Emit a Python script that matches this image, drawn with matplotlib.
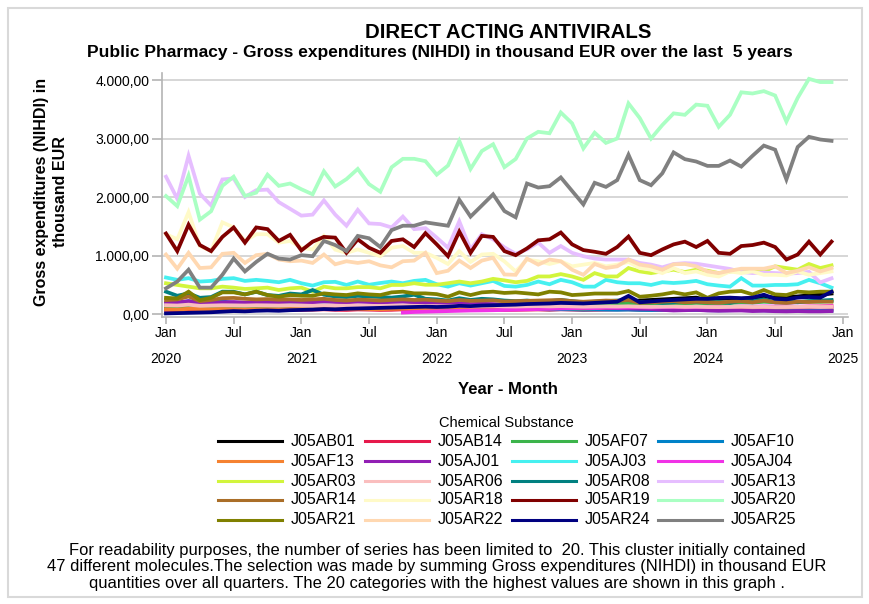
import numpy as np
import matplotlib
matplotlib.use("Agg")
import matplotlib.pyplot as plt
from matplotlib.lines import Line2D
from matplotlib.patches import Rectangle

plt.rcParams['font.family'] = ['Liberation Sans', 'DejaVu Sans']

nan = np.nan
months = list(range(60))  # Jan 2020 .. Dec 2024
tick_pos = list(range(0, 61, 6))
tick_labels = ['Jan\n2020', 'Jul', 'Jan\n2021', 'Jul', 'Jan\n2022', 'Jul',
               'Jan\n2023', 'Jul', 'Jan\n2024', 'Jul', 'Jan\n2025']
y_ticks = [0, 1000, 2000, 3000, 4000]
y_tick_labels = ['0,00', '1.000,00', '2.000,00', '3.000,00', '4.000,00']

J05AB01 = [90,100,110,95,100,105,100,95,100,105,100,110,
           100,105,110,100,105,110,115,110,115,120,115,120,
           130,125,135,130,140,150,145,150,160,170,175,180,
           185,190,200,210,215,220,230,240,250,260,270,280,
           240,260,270,260,270,300,280,290,300,320,330,350]
J05AB14 = [70,65,80,60,70,75,70,65,70,75,68,72,
           70,75,80,72,70,78,75,70,72,80,85,78,
           75,70,80,72,75,78,70,72,75,78,72,80,
           75,70,72,75,78,80,72,70,75,78,72,75,
           70,72,75,78,70,75,72,70,75,78,72,75]
J05AF07 = [120,110,140,115,120,130,135,125,130,135,128,132,
           130,125,140,130,135,140,138,130,135,140,145,142,
           140,135,150,140,145,150,145,150,155,160,155,165,
           160,150,160,165,170,175,165,170,180,185,180,190,
           185,180,190,200,195,210,200,190,205,215,210,220]
J05AF10 = [170,180,220,200,210,215,190,180,170,165,160,155,
           150,145,150,140,135,130,125,120,120,115,110,105,
           100,95,100,95,90,92,88,85,90,85,80,82,
           80,75,78,75,72,75,70,68,70,72,68,70,
           65,62,65,68,65,62,60,58,60,62,60,58]
J05AF13 = [80,75,90,85,80,85,80,78,80,82,80,85,
           85,80,90,85,88,90,85,82,88,90,92,90,
           90,85,95,90,92,95,90,92,95,98,95,100,
           98,95,100,102,100,105,100,98,102,105,100,108,
           105,100,110,112,108,115,110,112,118,125,130,135]
J05AJ01 = [190,200,220,180,185,200,205,195,200,205,200,210,
           205,200,215,205,200,210,205,200,205,210,200,195,
           180,175,185,170,175,170,160,155,150,145,140,135,
           120,110,115,105,100,95,90,85,70,60,65,70,
           60,55,58,60,50,55,48,45,50,45,45,50]
J05AJ03 = [624,584,613,555,566,601,613,566,584,566,543,584,
           526,486,543,550,497,555,500,530,555,526,566,584,
           509,468,526,486,526,566,480,468,497,555,509,584,
           543,468,468,584,543,526,526,497,543,530,543,566,
           509,486,468,613,486,486,497,497,509,584,526,451]
J05AJ04 = [nan,nan,nan,nan,nan,nan,nan,nan,nan,nan,nan,nan,
           nan,nan,nan,nan,nan,nan,nan,nan,nan,25,35,40,
           45,50,55,60,62,65,70,75,80,85,90,95,
           100,105,100,110,108,112,115,110,118,120,115,118,
           122,125,120,128,125,130,128,132,125,130,128,135]
J05AR03 = [526,497,468,439,439,468,451,428,439,451,410,439,
           451,382,468,439,439,460,460,439,497,497,526,500,
           500,526,555,526,555,601,575,543,566,642,642,682,
           642,584,699,642,642,786,728,699,728,757,717,757,
           740,699,728,740,757,728,815,786,757,855,786,832]
J05AR06 = [150,145,160,140,145,150,148,145,150,148,145,150,
           145,140,150,142,140,145,140,138,142,145,140,138,
           135,130,140,132,135,138,130,128,132,135,130,135,
           130,125,128,130,128,132,125,122,125,128,122,125,
           120,118,122,125,120,122,118,120,122,125,120,122]
J05AR08 = [382,312,353,277,290,382,380,335,380,324,310,350,
           335,410,330,300,290,310,300,290,280,300,330,260,
           250,230,270,240,260,250,230,220,230,210,220,240,
           220,200,210,220,230,240,200,210,190,200,220,210,
           200,210,190,230,220,250,200,210,200,220,230,240]
J05AR13 = [2347,1971,2705,2058,1855,2300,2318,2000,2116,2127,1913,1798,
           1682,1699,1942,1700,1509,1780,1549,1538,1480,1665,1451,1468,
           1306,1133,1584,1104,1364,1277,1140,1029,1104,1220,1046,1162,
           1046,988,948,931,931,931,873,844,798,855,870,860,
           830,800,770,720,700,710,700,690,700,720,540,610]
J05AR14 = [237,250,300,220,240,270,275,260,250,255,245,250,
           240,250,260,240,230,245,240,230,240,250,240,245,
           230,220,240,225,230,235,215,220,225,230,235,240,
           220,210,220,230,225,240,190,200,210,220,200,210,
           200,195,210,220,200,230,200,190,210,205,215,210]
J05AR18 = [1364,1277,1740,1162,1075,1567,1480,1249,1364,1364,1220,1249,
           1133,1104,1335,1100,1046,1104,1046,988,1133,1162,1046,1046,
           960,855,1075,890,1017,1029,900,728,931,902,855,902,
           815,844,873,815,844,890,786,757,699,786,699,728,
           670,641,728,699,728,670,670,659,728,670,699,728]
J05AR19 = [1376,1075,1526,1179,1075,1318,1480,1220,1480,1451,1249,1353,
           1087,1237,1318,1306,1046,1277,1133,1046,1249,1277,1145,1382,
           1191,988,1410,1046,1335,1318,1075,1006,1121,1260,1277,1393,
           1191,1093,1064,1029,1145,1324,1046,1006,1104,1190,1237,1145,
           1249,1046,1029,1162,1179,1220,1145,931,1017,1237,1017,1237]
J05AR20 = [2017,1844,2364,1613,1757,2191,2347,2017,2075,2382,2191,2231,
           2133,2046,2440,2180,2306,2480,2220,2090,2509,2653,2653,2613,
           2382,2538,2960,2480,2786,2902,2510,2650,3000,3115,3090,3445,
           3260,2830,3100,2925,3000,3600,3350,3000,3230,3430,3405,3580,
           3560,3200,3405,3790,3770,3810,3735,3290,3695,4020,3965,3965]
J05AR21 = [277,266,382,237,277,370,370,335,382,324,295,324,
           312,312,353,335,324,353,335,324,370,382,353,353,
           340,295,370,324,370,382,360,370,353,335,382,370,
           324,335,350,350,350,393,295,312,335,370,335,370,
           277,353,382,393,335,410,335,324,382,370,382,382]
J05AR22 = [1017,775,1046,786,798,1029,1046,873,1006,1029,931,902,
           913,873,1017,850,902,873,902,832,798,902,913,1046,
           699,740,913,786,913,960,676,670,948,844,931,902,
           757,670,855,786,815,931,844,815,757,850,855,815,
           728,699,740,775,775,775,815,699,740,798,728,786]
J05AR24 = [10,15,20,25,30,40,50,45,55,60,55,65,
           70,75,85,80,90,95,100,105,110,115,120,125,
           120,125,140,135,145,150,155,160,170,175,180,190,
           185,180,190,200,210,310,200,215,230,240,250,260,
           260,275,280,270,280,330,260,250,280,290,280,380]
J05AR25 = [439,555,757,451,451,670,948,728,890,1029,948,931,
           1006,988,1249,1179,1075,1335,1295,1145,1434,1509,1509,1567,
           1538,1509,1954,1665,1855,2046,1760,1653,2231,2162,2185,2335,
           2104,1873,2243,2173,2289,2723,2289,2202,2405,2763,2647,2607,
           2532,2532,2624,2520,2705,2879,2809,2300,2855,3029,2983,2960]

names = ['J05AB01','J05AB14','J05AF07','J05AF10','J05AF13','J05AJ01','J05AJ03','J05AJ04',
         'J05AR03','J05AR06','J05AR08','J05AR13','J05AR14','J05AR18','J05AR19','J05AR20',
         'J05AR21','J05AR22','J05AR24','J05AR25']
series = [J05AB01,J05AB14,J05AF07,J05AF10,J05AF13,J05AJ01,J05AJ03,J05AJ04,
          J05AR03,J05AR06,J05AR08,J05AR13,J05AR14,J05AR18,J05AR19,J05AR20,
          J05AR21,J05AR22,J05AR24,J05AR25]
colors = ['#000000','#e6194b','#3cb44b','#0082c8','#f58231','#911eb4','#46f0f0','#f032e6',
          '#d2f53c','#fabebe','#008080','#e6beff','#aa6e28','#fffac8','#800000','#aaffc3',
          '#808000','#ffd8b1','#000080','#808080']

W, H = 869, 604
fig = plt.figure(figsize=(W/100, H/100), dpi=100)
fig.patches.append(Rectangle((8/W, 1-597/H), (862-8)/W, (597-8)/H, transform=fig.transFigure,
                             fill=False, edgecolor='#d9d9d9', lw=1.5))

ax = fig.add_axes([161.7/W, 1-316.7/H, (848-161.7)/W, (316.7-73.3)/H])
for name, vals, c in zip(names, series, colors):
    ax.plot(months, vals, color=c, lw=2.7, solid_joinstyle='miter', zorder=3)

ax.set_xlim(-0.38, 60.46)
ax.set_ylim(-46, 4115)
ax.set_yticks(y_ticks)
ax.set_yticklabels(y_tick_labels, fontsize=10)
ax.set_xticks(tick_pos)
ax.set_xticklabels(tick_labels, fontsize=10, linespacing=2.15)
ax.yaxis.grid(True, color='#d3d3d3', lw=1.3, zorder=0)
ax.set_axisbelow(True)
for s in ['top', 'right']:
    ax.spines[s].set_visible(False)
for s in ['left', 'bottom']:
    ax.spines[s].set_color('#b4b4b4')
    ax.spines[s].set_linewidth(1.2)
ax.tick_params(axis='y', color='#b4b4b4', length=7, width=1.2, pad=2)
ax.tick_params(axis='x', color='#b4b4b4', length=5, width=1.2, pad=1.5)

fig.text(508/W, 1-33/H, 'DIRECT ACTING ANTIVIRALS', ha='center', va='center',
         fontsize=14.7, fontweight='bold')
fig.text(440/W, 1-52/H, 'Public Pharmacy - Gross expenditures (NIHDI) in thousand EUR over the last  5 years',
         ha='center', va='center', fontsize=12.5, fontweight='bold')
fig.text(51/W, 1-192/H, 'Gross expenditures (NIHDI) in\nthousand EUR', ha='center', va='center',
         rotation=90, fontsize=11.5, fontweight='bold', linespacing=1.3)
fig.text(508/W, 1-390/H, 'Year - Month', ha='center', va='center', fontsize=12, fontweight='bold')

# legend
fig.text(506/W, 1-423/H, 'Chemical Substance', ha='center', va='center', fontsize=10.5)
col_x = [218, 365, 512, 658]
row_y = [441, 461, 481, 500, 520]
for i, (name, c) in enumerate(zip(names, colors)):
    r, k = divmod(i, 4)
    x0 = col_x[k]
    y0 = 1 - row_y[r]/H
    fig.lines.append(Line2D([x0/W, (x0+64)/W], [y0, y0], transform=fig.transFigure,
                            color=c, lw=2.2))
    fig.text((x0+73)/W, y0, name, ha='left', va='center', fontsize=11.5)

foot = ('For readability purposes, the number of series has been limited to  20. This cluster initially contained\n'
        '47 different molecules.The selection was made by summing Gross expenditures (NIHDI) in thousand EUR\n'
        'quantities over all quarters. The 20 categories with the highest values are shown in this graph .')
fig.text(437/W, 1-567/H, foot, ha='center', va='center', fontsize=11.9, linespacing=1.16)

fig.savefig('out.png', dpi=100)
